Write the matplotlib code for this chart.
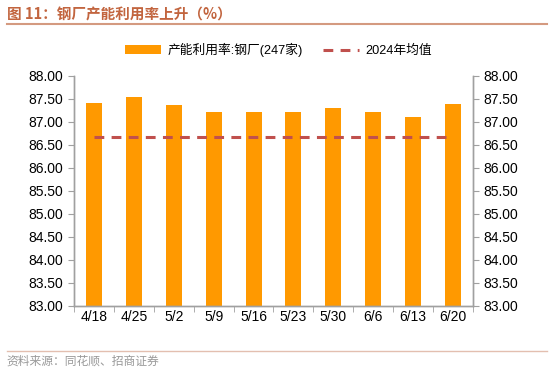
import matplotlib
matplotlib.use("Agg")
import matplotlib.pyplot as plt
import numpy as np
from matplotlib.ticker import FixedLocator, NullFormatter

plt.rcParams['font.family'] = ['Liberation Sans', 'Noto Sans CJK SC', 'DejaVu Sans']

categories = ["4/18", "4/25", "5/2", "5/9", "5/16", "5/23", "5/30", "6/6", "6/13", "6/20"]
utilization = [87.41, 87.54, 87.36, 87.21, 87.21, 87.20, 87.30, 87.21, 87.11, 87.38]
avg_2024 = [86.66] * len(categories)
yticks = [83.0, 83.5, 84.0, 84.5, 85.0, 85.5, 86.0, 86.5, 87.0, 87.5, 88.0]

fig = plt.figure(figsize=(5.5, 3.76), dpi=100)
ax = fig.add_axes([0.1345, 0.187, 0.7255, 0.612])
x = np.arange(len(categories))
bar = ax.bar(x, utilization, width=0.4, color="#FF9900", label="产能利用率:钢厂(247家)", zorder=2)
line, = ax.plot(x, avg_2024, color="#C0504D", lw=2.2, dashes=(3.2, 2.4), label="2024年均值", zorder=3)

ax.set_xlim(-0.5, len(categories) - 0.5)
ax.set_ylim(83, 88)
ax.set_yticks(yticks)
ax.set_yticklabels([f"{v:.2f}" for v in yticks])
ax.set_xticks(x)
ax.set_xticklabels(categories)
ax.xaxis.set_minor_locator(FixedLocator(np.arange(-0.5, len(categories), 1.0)))
ax.xaxis.set_minor_formatter(NullFormatter())
ax.tick_params(axis='x', which='major', length=0, labelsize=10, pad=3, colors='black')
ax.tick_params(axis='x', which='minor', length=4, color='#A0A0A0', direction='out')
ax.tick_params(axis='y', length=4, color='#A0A0A0', labelsize=10, direction='out')

ax2 = ax.twinx()
ax2.set_ylim(83, 88)
ax2.set_yticks(yticks)
ax2.set_yticklabels([f"{v:.2f}" for v in yticks])
ax2.tick_params(axis='y', length=4, color='#A0A0A0', labelsize=10, direction='out')

for a in (ax, ax2):
    a.spines['top'].set_visible(False)
    for s in ('left', 'right', 'bottom'):
        a.spines[s].set_color('#A0A0A0')
        a.spines[s].set_linewidth(1.0)

fig.legend([bar, line], ["产能利用率:钢厂(247家)", "2024年均值"], loc='center',
           bbox_to_anchor=(0.507, 0.867), ncol=2, frameon=False, fontsize=9.2,
           handlelength=2.8, handletextpad=0.5, columnspacing=1.6)

fig.text(0.012, 0.962, "图 11：钢厂产能利用率上升（%）", fontsize=10.5, fontweight='bold',
         color="#C2653F", family=['Noto Sans CJK SC', 'DejaVu Sans'], va='center', ha='left')
fig.add_artist(plt.Line2D([0.012, 0.995], [0.937, 0.937], color="#D49A80", lw=1.5))
fig.add_artist(plt.Line2D([0.012, 0.995], [0.067, 0.067], color="#E3BFB0", lw=1.0))
fig.text(0.012, 0.040, "资料来源：同花顺、招商证券", fontsize=8.5, color="#999999",
         family=['Noto Sans CJK SC', 'DejaVu Sans'], va='center', ha='left')

fig.savefig("out.png", dpi=100)
